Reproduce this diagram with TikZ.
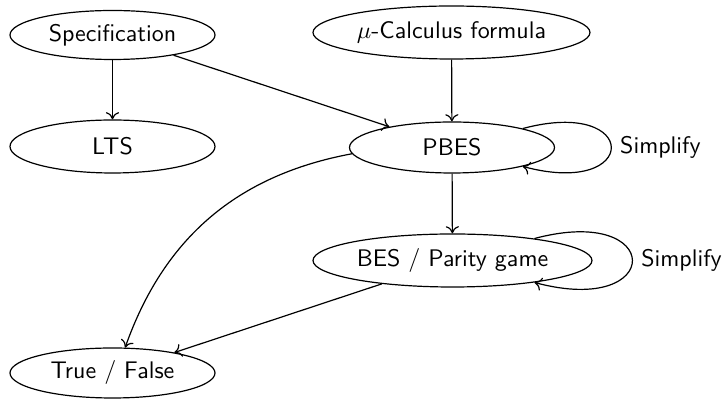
\documentclass[tikz,border=0pt]{standalone}
\usetikzlibrary{shapes.geometric,arrows.meta}
\newlength\pxu
\setlength\pxu{0.4167pt}
\begin{document}
\begin{tikzpicture}[x=0.4167pt,y=-0.4167pt,
  line width=0.5pt,
  ell/.style={draw, ellipse, inner sep=0pt, minimum width=205\pxu, minimum height=52\pxu, font=\sffamily},
  lbl/.style={font=\sffamily, right, inner sep=3.5pt},
  >={To[length=3pt,width=5.5pt]}]
\useasboundingbox (0,0) rectangle (726,399);
\node[ell, minimum height=49\pxu] (spec) at (112.5,35) {Specification};
\node[ell, minimum width=277\pxu, minimum height=53\pxu] (mu) at (451.5,32.5) {$\mu$-Calculus formula};
\node[ell, minimum height=53\pxu] (lts) at (112.5,146.5) {LTS};
\node[ell, minimum height=51\pxu] (pbes) at (452,147.5) {PBES};
\node[ell, minimum width=279\pxu, minimum height=53\pxu] (bes) at (452.5,260.5) {BES / Parity game};
\node[ell, minimum height=50\pxu] (tf) at (112.5,373) {True / False};
\draw[->] (spec) -- (lts);
\draw[->] (spec) -- (pbes);
\draw[->] (mu) -- (pbes);
\draw[->] (pbes) -- (bes);
\draw[->] (pbes) to[bend right=30] (tf);
\draw[->] (bes) -- (tf);
\draw[->] (pbes) to[out=15,in=-15,distance=122\pxu] node[lbl] (s1) {Simplify} (pbes);
\draw[->] (bes) to[out=15,in=-15,distance=135\pxu] node[lbl] (s2) {Simplify} (bes);
\end{tikzpicture}
\end{document}
